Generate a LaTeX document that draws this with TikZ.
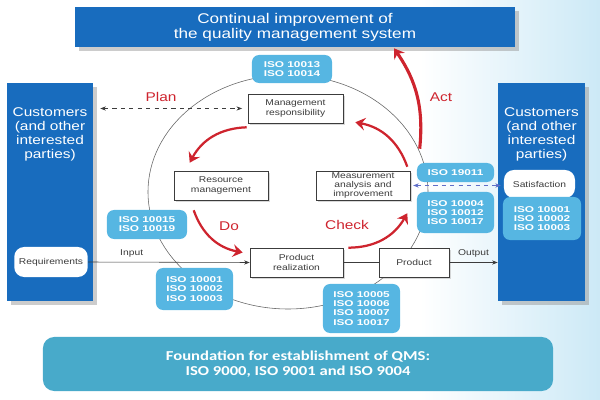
\documentclass[tikz,border=0pt]{standalone}
\usepackage{fontspec}
\setmainfont[FakeStretch=1.22]{Liberation Sans}
\newfontfamily\isofont[FakeStretch=1.4]{Liberation Sans}
\newfontfamily\basefont[FakeStretch=1.22]{Carlito}
\usetikzlibrary{arrows.meta, positioning, calc, shadows}
\definecolor{qmblue}{RGB}{24,108,190}
\definecolor{qmcyan}{RGB}{86,182,226}
\definecolor{qmteal}{RGB}{72,170,202}
\definecolor{qmred}{RGB}{206,36,46}
\definecolor{qmdash}{RGB}{95,110,200}
\definecolor{qmgris}{RGB}{60,60,60}

\begin{document}
\begin{tikzpicture}[x=0.025cm, y=-0.025cm,
  bigbox/.style={rectangle, fill=qmblue, text=white, align=center,
                 drop shadow={shadow xshift=3pt, shadow yshift=-3pt, fill=black!40, opacity=0.5}},
  proc/.style={rectangle, draw=qmgris, fill=white, align=center, minimum height=0.725cm,
               font=\fontsize{6}{6.5}\selectfont, text=qmgris, inner sep=1pt,
               drop shadow={shadow xshift=1.5pt, shadow yshift=-1.5pt, fill=black!30, opacity=0.5}},
  pill/.style={rectangle, rounded corners=5pt, fill=qmcyan, text=white, align=center,
               minimum width=1.925cm, font=\isofont\bfseries\fontsize{6}{6.5}\selectfont, inner sep=1pt},
  tag/.style={rectangle, rounded corners=7pt, fill=white, align=center, text=qmgris,
              font=\fontsize{6}{7}\selectfont},
  cyc/.style={qmred, line width=1.6pt, -{Stealth[length=7pt, width=9pt, inset=2.5pt]}},
  lnk/.style={-{Stealth[length=4pt]}, qmgris, thin},
  phase/.style={text=qmred, font=\fontsize{9}{10}\selectfont}]

  \useasboundingbox (0,0) rectangle (600,400);
  \shade[left color=white, right color=qmcyan!30] (420,0) rectangle (600,400);

  % PDCA circle
  \draw[qmgris!80, thin] (288,192) ellipse [x radius=140, y radius=117];

  % customers and improvement
  \node[bigbox, minimum width=11cm, minimum height=1cm, font=\fontsize{10}{10.6}\selectfont] (cont) at (295,27)
    {Continual improvement of\\the quality management system};
  \node[bigbox, minimum width=2.15cm, minimum height=5.45cm] (custl) at (50,192) {};
  \node[text=white, align=center, font=\fontsize{9}{10}\selectfont] (custltxt) at (50,134)
    {Customers\\(and other\\interested\\parties)};
  \node[bigbox, minimum width=2.175cm, minimum height=5.45cm] (custr) at (541.5,192) {};
  \node[text=white, align=center, font=\fontsize{9}{10}\selectfont] (custrtxt) at (541.5,134)
    {Customers\\(and other\\interested\\parties)};
  \node[tag, minimum width=1.75cm, minimum height=0.75cm] (req) at (51,262) {Requirements};
  \node[tag, minimum width=1.775cm, minimum height=0.7cm] (sat) at (539.5,184) {Satisfaction};

  % processes
  \node[proc, minimum width=2.375cm] (mgmt) at (295.5,108.5) {Management\\responsibility};
  \node[proc, minimum width=2.35cm] (res) at (221,185.5) {Resource\\management};
  \node[proc, minimum width=2.35cm] (meas) at (363,185.5) {Measurement\\analysis and\\improvement};
  \node[proc, minimum width=2.325cm] (real) at (296.5,262.5) {Product\\realization};
  \node[proc, minimum width=1.75cm] (prod) at (414,262.5) {Product};

  % standards
  \node[pill, minimum width=2cm, minimum height=0.7cm] (iso13) at (292,69) {ISO 10013\\ISO 10014};
  \node[pill, minimum width=2cm, minimum height=0.725cm] (iso15) at (147,224.5) {ISO 10015\\ISO 10019};
  \node[pill, minimum height=1.05cm] (isoA) at (194.5,289) {ISO 10001\\ISO 10002\\ISO 10003};
  \node[pill, minimum height=1.225cm] (isoB) at (361.5,308.5) {ISO 10005\\ISO 10006\\ISO 10007\\ISO 10017};
  \node[pill, minimum height=0.475cm] (iso19) at (455.5,172.5) {ISO 19011};
  \node[pill, minimum height=1.025cm] (iso04) at (455.5,212.5) {ISO 10004\\ISO 10012\\ISO 10017};
  \node[pill, minimum width=1.95cm, minimum height=1.075cm] (isoR) at (542,218.5) {ISO 10001\\ISO 10002\\ISO 10003};

  \node[rectangle, rounded corners=8pt, fill=qmteal, text=white, align=center,
        font=\basefont\bfseries\fontsize{9.7}{10.6}\selectfont,
        minimum width=12.75cm, minimum height=1.35cm] (found) at (298,364)
    {Foundation for establishment of QMS:\\ISO 9000, ISO 9001 and ISO 9004};

  % phases
  \node[phase] (plan) at (161,97) {Plan};
  \node[phase] (do) at (229,226) {Do};
  \node[phase] (check) at (347,225) {Check};
  \node[phase] (act) at (441,97) {Act};

  \draw[cyc] ($(mgmt.south west)+(-1,4)$) to[bend right=30] ($(res.north west)+(16,-8)$);
  \draw[cyc] ($(res.south west)+(20,10)$) to[bend right=30] ($(real.west)+(-7,-10)$);
  \draw[cyc] ($(real.north east)+(5,0)$) to[bend right=30] ($(meas.south east)+(-3,13)$);
  \draw[cyc] ($(meas.north east)+(-3,-4)$) to[bend right=30] ($(mgmt.south east)+(12,-1)$);
  \draw[cyc, line width=2.2pt] ($(iso19.north west)+(3,-14)$) to[bend right=20] ($(cont.south)+(99,1)$);

  % flows
  \draw[{Stealth[length=4pt]}-{Stealth[length=4pt]}, dashed, qmgris, shorten <=5pt, shorten >=4pt]
    (mgmt.west -| custl.east) -- (mgmt.west);
  \draw[{Stealth[length=4pt]}-{Stealth[length=4pt]}, dashed, qmdash, thick, shorten <=2pt, shorten >=2pt]
    (meas.east) -- (meas.east -| sat.west);
  \draw[lnk] (req.east) -- (real.west)
    node[pos=0.27, above, font=\fontsize{6}{6}\selectfont, text=qmgris] {Input};
  \draw[qmgris, thin] (real.east) -- (prod.west);
  \draw[lnk] (prod.east) -- (prod.east -| custr.west)
    node[midway, above, font=\fontsize{6}{6}\selectfont, text=qmgris] {Output};
\end{tikzpicture}
\end{document}
